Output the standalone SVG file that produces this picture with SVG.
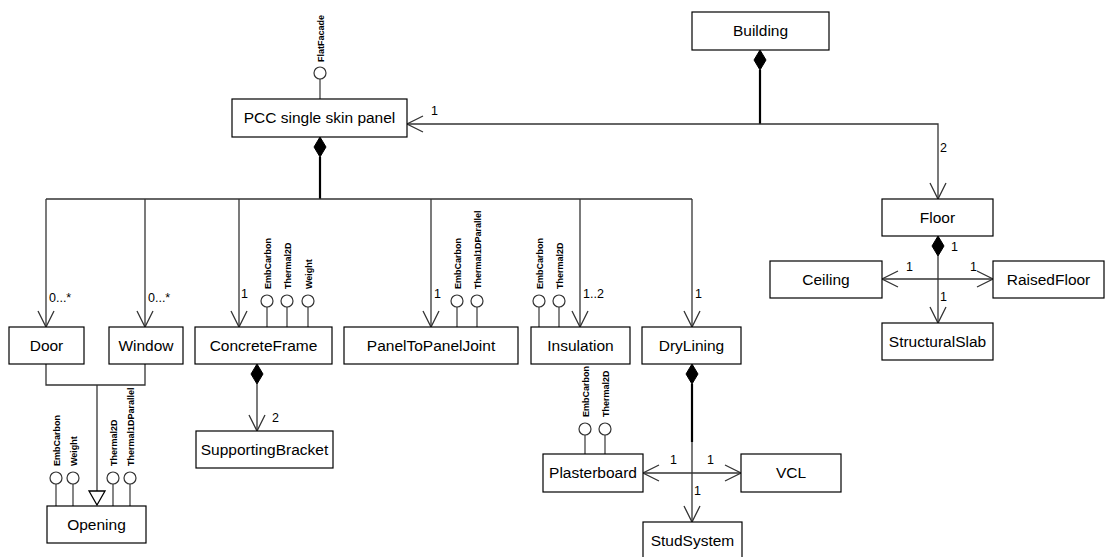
<svg xmlns="http://www.w3.org/2000/svg" width="1106" height="557" viewBox="0 0 1106 557">
  <style>
    .box { fill: #ffffff; stroke: #000000; stroke-width: 1.2; }
    .name { font-family: "Liberation Sans", Arial, sans-serif; font-size: 15.5px; fill: #000000; text-anchor: middle; }
    .line { fill: none; stroke: #333333; stroke-width: 1.3; }
    .thick { fill: none; stroke: #000000; stroke-width: 2.2; }
    .mult { font-family: "Liberation Sans", Arial, sans-serif; font-size: 12.5px; fill: #000000; }
    .stick { stroke: #444444; stroke-width: 1.3; }
    .ball { fill: #ffffff; stroke: #333333; stroke-width: 1.2; }
    .iface { font-family: "Liberation Sans", Arial, sans-serif; font-size: 9px; font-weight: bold; fill: #000000; }
    .diamond { fill: #000000; stroke: #000000; stroke-width: 1; }
  </style>
  <defs>
    <marker id="open" markerUnits="userSpaceOnUse" markerWidth="18" markerHeight="18" viewBox="0 0 18 18" refX="16" refY="8" orient="auto" overflow="visible">
      <path d="M0,0 L16,8 L0,16" fill="none" stroke="#333333" stroke-width="1.3"/>
    </marker>
    <marker id="gen" markerUnits="userSpaceOnUse" markerWidth="18" markerHeight="18" viewBox="0 0 18 18" refX="14" refY="8" orient="auto" overflow="visible">
      <path d="M0,0 L14,8 L0,16 Z" fill="#ffffff" stroke="#000000" stroke-width="1.3"/>
    </marker>
  </defs>

  <rect width="1106" height="557" fill="#ffffff"/>

  <!-- connectors -->
  <g id="connectors">
    <!-- Building composes PCC panel and Floor -->
    <polygon class="diamond" points="760,50 766,60 760,70 754,60"/>
    <path class="thick" d="M760,70 L760,124"/>
    <path class="line" d="M760,124 L407,124" marker-end="url(#open)"/>
    <path class="line" d="M760,124 L938,124 L938,199" marker-end="url(#open)"/>
    <text class="mult" x="431" y="115">1</text>
    <text class="mult" x="940" y="152">2</text>

    <!-- PCC panel composition -->
    <polygon class="diamond" points="320,137 326,147 320,157 314,147"/>
    <path class="thick" d="M320,157 L320,199"/>
    <path class="line" d="M46,199 L692,199"/>
    <path class="line" d="M46,199 L46,327" marker-end="url(#open)"/>
    <path class="line" d="M145,199 L145,327" marker-end="url(#open)"/>
    <path class="line" d="M239,199 L239,327" marker-end="url(#open)"/>
    <path class="line" d="M431,199 L431,327" marker-end="url(#open)"/>
    <path class="line" d="M580,199 L580,327" marker-end="url(#open)"/>
    <path class="line" d="M692,199 L692,327" marker-end="url(#open)"/>
    <text class="mult" x="49" y="302">0...*</text>
    <text class="mult" x="148" y="302">0...*</text>
    <text class="mult" x="241" y="298">1</text>
    <text class="mult" x="434" y="298">1</text>
    <text class="mult" x="583" y="298">1..2</text>
    <text class="mult" x="695" y="298">1</text>

    <!-- Door and Window generalise to Opening -->
    <path class="line" d="M46,364 L46,385 L145,385 L145,364"/>
    <path class="line" d="M97,385 L97,505" marker-end="url(#gen)"/>

    <!-- ConcreteFrame composes SupportingBracket -->
    <polygon class="diamond" points="257,364 263,374 257,384 251,374"/>
    <path class="line" d="M257,384 L257,431" marker-end="url(#open)"/>
    <text class="mult" x="272" y="422">2</text>

    <!-- DryLining composition -->
    <polygon class="diamond" points="692,364 698,374 692,384 686,374"/>
    <path class="thick" d="M692,384 L692,442"/>
    <path class="line" d="M692,442 L692,522" marker-end="url(#open)"/>
    <path class="line" d="M692,473 L643,473" marker-end="url(#open)"/>
    <path class="line" d="M692,473 L741,473" marker-end="url(#open)"/>
    <text class="mult" x="670" y="464">1</text>
    <text class="mult" x="707" y="464">1</text>
    <text class="mult" x="694" y="495">1</text>

    <!-- Floor composition -->
    <polygon class="diamond" points="938,236 944,246 938,256 932,246"/>
    <path class="line" d="M938,256 L938,323" marker-end="url(#open)"/>
    <path class="line" d="M938,279 L882,279" marker-end="url(#open)"/>
    <path class="line" d="M938,279 L993,279" marker-end="url(#open)"/>
    <text class="mult" x="951" y="251">1</text>
    <text class="mult" x="906" y="271">1</text>
    <text class="mult" x="970" y="271">1</text>
    <text class="mult" x="940" y="301">1</text>
  </g>

  <!-- nodes -->
  <g id="building">
    <rect class="box" x="692" y="12" width="137" height="38"/>
    <text class="name" x="760.5" y="36">Building</text>
  </g>

  <g id="pcc-panel">
    <line class="stick" x1="320" y1="79" x2="320" y2="99"/>
    <circle class="ball" cx="320" cy="73" r="6"/>
    <text class="iface" transform="translate(323.5,62) rotate(-90)">FlatFacade</text>
    <rect class="box" x="232" y="99" width="175" height="38"/>
    <text class="name" x="319.5" y="123">PCC single skin panel</text>
  </g>

  <g id="door">
    <rect class="box" x="9" y="327" width="75" height="37"/>
    <text class="name" x="46.5" y="351">Door</text>
  </g>

  <g id="window">
    <rect class="box" x="109" y="327" width="74" height="37"/>
    <text class="name" x="146" y="351">Window</text>
  </g>

  <g id="concrete-frame">
    <line class="stick" x1="267" y1="307" x2="267" y2="327"/>
    <line class="stick" x1="287" y1="307" x2="287" y2="327"/>
    <line class="stick" x1="308" y1="307" x2="308" y2="327"/>
    <circle class="ball" cx="267" cy="301" r="6"/>
    <circle class="ball" cx="287" cy="301" r="6"/>
    <circle class="ball" cx="308" cy="301" r="6"/>
    <text class="iface" transform="translate(270.5,289) rotate(-90)">EmbCarbon</text>
    <text class="iface" transform="translate(290.5,289) rotate(-90)">Thermal2D</text>
    <text class="iface" transform="translate(311.5,289) rotate(-90)">Weight</text>
    <rect class="box" x="195" y="327" width="137" height="37"/>
    <text class="name" x="263.5" y="351">ConcreteFrame</text>
  </g>

  <g id="panel-joint">
    <line class="stick" x1="457" y1="307" x2="457" y2="327"/>
    <line class="stick" x1="477" y1="307" x2="477" y2="327"/>
    <circle class="ball" cx="457" cy="301" r="6"/>
    <circle class="ball" cx="477" cy="301" r="6"/>
    <text class="iface" transform="translate(460.5,289) rotate(-90)">EmbCarbon</text>
    <text class="iface" transform="translate(480.5,289) rotate(-90)">Thermal1DParallel</text>
    <rect class="box" x="344" y="327" width="174" height="37"/>
    <text class="name" x="431" y="351">PanelToPanelJoint</text>
  </g>

  <g id="insulation">
    <line class="stick" x1="539" y1="307" x2="539" y2="327"/>
    <line class="stick" x1="559" y1="307" x2="559" y2="327"/>
    <circle class="ball" cx="539" cy="301" r="6"/>
    <circle class="ball" cx="559" cy="301" r="6"/>
    <text class="iface" transform="translate(542.5,289) rotate(-90)">EmbCarbon</text>
    <text class="iface" transform="translate(562.5,289) rotate(-90)">Thermal2D</text>
    <rect class="box" x="531" y="327" width="99" height="37"/>
    <text class="name" x="580.5" y="351">Insulation</text>
  </g>

  <g id="dry-lining">
    <rect class="box" x="642" y="327" width="99" height="37"/>
    <text class="name" x="691.5" y="351">DryLining</text>
  </g>

  <g id="floor">
    <rect class="box" x="882" y="199" width="111" height="37"/>
    <text class="name" x="937.5" y="223">Floor</text>
  </g>

  <g id="ceiling">
    <rect class="box" x="770" y="261" width="112" height="37"/>
    <text class="name" x="826" y="285">Ceiling</text>
  </g>

  <g id="raised-floor">
    <rect class="box" x="993" y="261" width="111" height="37"/>
    <text class="name" x="1048.5" y="285">RaisedFloor</text>
  </g>

  <g id="structural-slab">
    <rect class="box" x="882" y="323" width="111" height="37"/>
    <text class="name" x="937.5" y="347">StructuralSlab</text>
  </g>

  <g id="supporting-bracket">
    <rect class="box" x="196" y="431" width="137" height="37"/>
    <text class="name" x="264.5" y="455">SupportingBracket</text>
  </g>

  <g id="opening">
    <line class="stick" x1="56" y1="484" x2="56" y2="506"/>
    <line class="stick" x1="73" y1="484" x2="73" y2="506"/>
    <line class="stick" x1="113" y1="484" x2="113" y2="506"/>
    <line class="stick" x1="130" y1="484" x2="130" y2="506"/>
    <circle class="ball" cx="56" cy="478" r="6"/>
    <circle class="ball" cx="73" cy="478" r="6"/>
    <circle class="ball" cx="113" cy="478" r="6"/>
    <circle class="ball" cx="130" cy="478" r="6"/>
    <text class="iface" transform="translate(59.5,466) rotate(-90)">EmbCarbon</text>
    <text class="iface" transform="translate(76.5,466) rotate(-90)">Weight</text>
    <text class="iface" transform="translate(116.5,466) rotate(-90)">Thermal2D</text>
    <text class="iface" transform="translate(133.5,466) rotate(-90)">Thermal1DParallel</text>
    <rect class="box" x="47" y="506" width="99" height="37"/>
    <text class="name" x="96.5" y="530">Opening</text>
  </g>

  <g id="plasterboard">
    <line class="stick" x1="585" y1="435" x2="585" y2="454"/>
    <line class="stick" x1="605" y1="435" x2="605" y2="454"/>
    <circle class="ball" cx="585" cy="429" r="6"/>
    <circle class="ball" cx="605" cy="429" r="6"/>
    <text class="iface" transform="translate(588.5,417) rotate(-90)">EmbCarbon</text>
    <text class="iface" transform="translate(608.5,417) rotate(-90)">Thermal2D</text>
    <rect class="box" x="543" y="454" width="100" height="38"/>
    <text class="name" x="593" y="478">Plasterboard</text>
  </g>

  <g id="vcl">
    <rect class="box" x="741" y="454" width="100" height="38"/>
    <text class="name" x="791" y="478">VCL</text>
  </g>

  <g id="stud-system">
    <rect class="box" x="643" y="522" width="99" height="40"/>
    <text class="name" x="692.5" y="546">StudSystem</text>
  </g>
</svg>
